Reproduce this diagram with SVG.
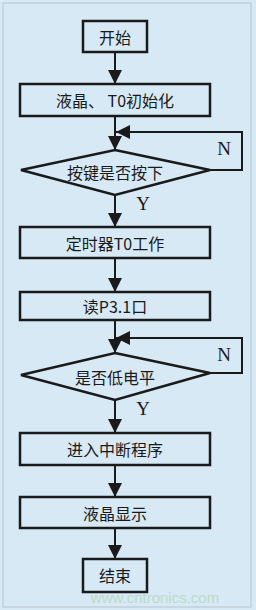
<svg xmlns="http://www.w3.org/2000/svg" width="256" height="610" viewBox="0 0 256 610">
<style>
.bx{fill:none;stroke:#1a1a1a;stroke-width:2.5}
.ln{fill:none;stroke:#1a1a1a;stroke-width:2}
.t{font-family:"Noto Sans CJK SC","Liberation Serif",serif;font-size:16px;fill:#1a1a1a;text-anchor:middle;dominant-baseline:central}
.l{font-family:"Liberation Serif",serif;font-size:19px;fill:#1a1a1a;text-anchor:middle;dominant-baseline:central}
</style>
<defs>
<marker id="ah" markerUnits="userSpaceOnUse" markerWidth="14" markerHeight="16" refX="14" refY="7" orient="auto" viewBox="0 0 14 14">
<path d="M0,0 L14,7 L0,14 Z" fill="#1a1a1a"/>
</marker>
</defs>
<rect x="0" y="0" width="256" height="610" fill="#d6e9f5"/>
<rect x="3" y="3" width="248" height="604" fill="none" stroke="#b9c4cc" stroke-width="1"/>
<g id="connectors">
<line class="ln" x1="115" y1="52" x2="115" y2="84" marker-end="url(#ah)"/>
<line class="ln" x1="115" y1="116" x2="115" y2="150" marker-end="url(#ah)"/>
<polyline class="ln" points="210,170 242,170 242,132 116,132" marker-end="url(#ah)"/>
<line class="ln" x1="115" y1="195" x2="115" y2="227" marker-end="url(#ah)"/>
<line class="ln" x1="115" y1="258" x2="115" y2="292" marker-end="url(#ah)"/>
<line class="ln" x1="115" y1="320" x2="115" y2="353" marker-end="url(#ah)"/>
<polyline class="ln" points="210,373 242,373 242,338 116,338" marker-end="url(#ah)"/>
<line class="ln" x1="115" y1="400" x2="115" y2="433" marker-end="url(#ah)"/>
<line class="ln" x1="115" y1="465" x2="115" y2="497" marker-end="url(#ah)"/>
<line class="ln" x1="115" y1="528" x2="115" y2="559" marker-end="url(#ah)"/>
<text class="l" x="224" y="148">N</text>
<text class="l" x="143" y="203">Y</text>
<text class="l" x="224" y="354">N</text>
<text class="l" x="143" y="408">Y</text>
</g>
<g id="start"><rect class="bx" x="83" y="21" width="64" height="31"/><text class="t" x="115" y="36.5">开始</text></g>
<g id="init"><rect class="bx" x="20" y="84" width="190" height="32"/><text class="t" x="115" y="100">液晶、 T0初始化</text></g>
<g id="key"><polygon class="bx" points="115,150 210,170 115,195 21,170"/><text class="t" x="115" y="172">按键是否按下</text></g>
<g id="timer"><rect class="bx" x="20" y="227" width="190" height="31"/><text class="t" x="115" y="242.5">定时器T0工作</text></g>
<g id="read"><rect class="bx" x="20" y="292" width="190" height="28"/><text class="t" x="115" y="306">读P3.1口</text></g>
<g id="low"><polygon class="bx" points="115,353 210,373 115,400 21,375"/><text class="t" x="115" y="377">是否低电平</text></g>
<g id="isr"><rect class="bx" x="20" y="433" width="190" height="32"/><text class="t" x="115" y="449">进入中断程序</text></g>
<g id="lcd"><rect class="bx" x="20" y="497" width="190" height="31"/><text class="t" x="115" y="512.5">液晶显示</text></g>
<g id="end"><rect class="bx" x="83" y="559" width="64" height="33"/><text class="t" x="115" y="575">结束</text></g>
<text x="155" y="603" font-family="Liberation Sans,sans-serif" font-size="15" fill="#b8d8c0" text-anchor="middle" opacity="0.8">www.cntronics.com</text>
</svg>
